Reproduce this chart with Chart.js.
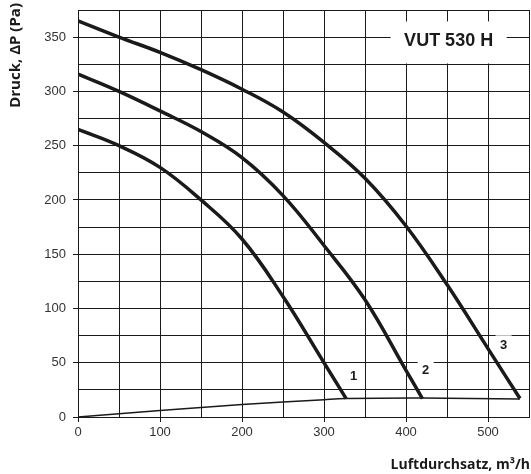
<!DOCTYPE html>
<html>
<head>
<meta charset="utf-8">
<script src="https://cdn.jsdelivr.net/npm/chart.js@4"></script>
<style>
  html, body { margin: 0; padding: 0; background: #fff; }
  #wrap { width: 531px; height: 474px; }
</style>
</head>
<body>
<div id="wrap"><canvas id="chart" width="531" height="474"></canvas></div>
<script>
// fan curves
const curve1Flow = [0, 50, 100, 150, 200, 250, 300, 327];
const curve1Pressure = [265, 250, 230, 200, 164, 111, 50, 17];
const curve2Flow = [0, 50, 100, 150, 200, 250, 300, 350, 400, 420];
const curve2Pressure = [316, 300, 282, 263, 239, 204, 158, 108, 43, 17];
const curve3Flow = [0, 50, 100, 150, 200, 250, 300, 350, 400, 450, 500, 539];
const curve3Pressure = [365, 350, 336, 320, 302, 281, 253, 220, 176, 122, 63, 17];
// system (network) curve
const networkFlow = [0, 100, 200, 300, 327, 420, 539];
const networkPressure = [0, 6, 11.5, 16, 17, 17.5, 16.6];

const curveNames = ["1", "2", "3"];
const curveNameFlow = [336, 424, 519];
const curveNamePressure = [38, 44, 67];

const chartTitle = "VUT 530 H";
const xTitle = "Luftdurchsatz, m³/h";
const yTitle = "Druck, ΔP (Pa)";

const toPoints = (xs, ys) => xs.map((x, i) => ({ x: x, y: ys[i] }));

const ink = "#1a1a1a";

// white boxes with text, drawn over the grid but under the curves
const labelBoxes = {
  id: "labelBoxes",
  beforeDatasetsDraw(chart) {
    const ctx = chart.ctx;
    const xs = chart.scales.x;
    const ys = chart.scales.y;
    ctx.save();
    ctx.textAlign = "center";
    ctx.textBaseline = "middle";

    // chart title box
    const tx = xs.getPixelForValue(452);
    const ty = ys.getPixelForValue(346);
    ctx.fillStyle = "#fff";
    ctx.fillRect(tx - 58, ty - 20, 116, 42);
    ctx.fillStyle = ink;
    ctx.font = "bold 18px 'Liberation Sans', Arial, sans-serif";
    ctx.fillText(chartTitle, tx, ty);

    ctx.font = "bold 13px 'Liberation Sans', Arial, sans-serif";
    curveNames.forEach((name, i) => {
      const px = xs.getPixelForValue(curveNameFlow[i]);
      const py = ys.getPixelForValue(curveNamePressure[i]);
      ctx.fillStyle = "#fff";
      ctx.fillRect(px - 8, py - 9, 16, 18);
      ctx.fillStyle = ink;
      ctx.fillText(name, px, py + 1);
    });
    ctx.restore();
  },
  // axis titles
  afterDraw(chart) {
    const ctx = chart.ctx;
    ctx.save();
    ctx.fillStyle = ink;
    ctx.font = "bold 14px 'Open Sans', sans-serif";
    ctx.textAlign = "right";
    ctx.textBaseline = "middle";
    ctx.fillText(xTitle, 530, 465);

    ctx.translate(16, 3);
    ctx.rotate(-Math.PI / 2);
    ctx.font = "bold 15px 'Open Sans', sans-serif";
    ctx.textAlign = "right";
    ctx.fillText(yTitle, 0, 0);
    ctx.restore();
  },
};

const fanLine = (data) => ({
  data: data,
  borderColor: ink,
  borderWidth: 3.5,
  pointRadius: 0,
  tension: 0.4,
  fill: false,
});

new Chart(document.getElementById("chart"), {
  type: "scatter",
  data: {
    datasets: [
      fanLine(toPoints(curve1Flow, curve1Pressure)),
      fanLine(toPoints(curve2Flow, curve2Pressure)),
      fanLine(toPoints(curve3Flow, curve3Pressure)),
      {
        data: toPoints(networkFlow, networkPressure),
        borderColor: ink,
        borderWidth: 1.5,
        pointRadius: 0,
        tension: 0.4,
        fill: false,
      },
    ],
  },
  options: {
    responsive: false,
    animation: false,
    showLine: true,
    layout: { padding: { top: 10, right: 2, left: 0, bottom: 0 } },
    plugins: {
      legend: { display: false },
      tooltip: { enabled: false },
    },
    scales: {
      x: {
        type: "linear",
        min: 0,
        max: 550,
        afterFit: (scale) => {
          scale.height = 57;
          scale.paddingLeft = 0;
          scale.paddingRight = 0;
        },
        border: { color: ink, width: 1 },
        grid: {
          color: ink,
          lineWidth: 1,
          tickLength: 5,
          tickColor: (c) => (c.tick && c.tick.value % 100 === 0 ? ink : "rgba(0,0,0,0)"),
        },
        ticks: {
          stepSize: 50,
          padding: 3,
          color: "#333",
          font: { family: "'Liberation Sans', Arial, sans-serif", size: 13 },
          maxRotation: 0,
          autoSkip: false,
          callback: (v) => (v % 100 === 0 ? v : ""),
        },
      },
      y: {
        type: "linear",
        min: 0,
        max: 375,
        afterFit: (scale) => {
          scale.width = 78;
          scale.paddingTop = 0;
          scale.paddingBottom = 0;
        },
        border: { color: ink, width: 1 },
        grid: {
          color: ink,
          lineWidth: 1,
          tickLength: 5,
          tickColor: (c) => (c.tick && c.tick.value % 50 === 0 ? ink : "rgba(0,0,0,0)"),
        },
        ticks: {
          stepSize: 25,
          padding: 7,
          color: "#333",
          font: { family: "'Liberation Sans', Arial, sans-serif", size: 13 },
          autoSkip: false,
          callback: (v) => (v % 50 === 0 ? v : ""),
        },
      },
    },
  },
  plugins: [labelBoxes],
});
</script>
</body>
</html>
